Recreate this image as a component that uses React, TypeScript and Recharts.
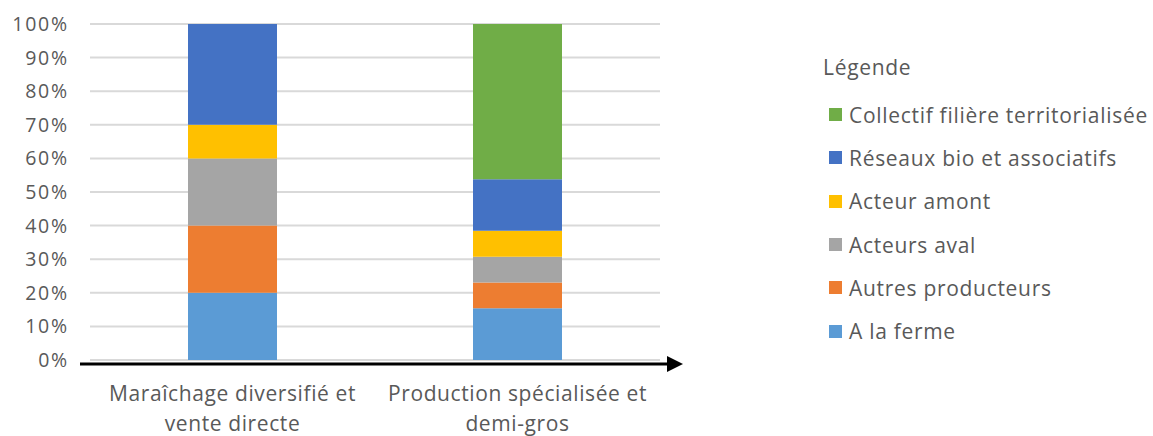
import React from "react";
import { BarChart, Bar, XAxis, YAxis, CartesianGrid, Legend, ReferenceLine } from "recharts";

const categories = ["Maraîchage diversifié et\nvente directe", "Production spécialisée et\ndemi-gros"];
const seriesNames = [
  "A la ferme",
  "Autres producteurs",
  "Acteurs aval",
  "Acteur amont",
  "Réseaux bio et associatifs",
  "Collectif filière territorialisée",
];
const seriesColors = ["#5B9BD5", "#ED7D31", "#A5A5A5", "#FFC000", "#4472C4", "#70AD47"];
const aLaFerme = [20, 15.38];
const autresProducteurs = [20, 7.69];
const acteursAval = [20, 7.69];
const acteurAmont = [10, 7.69];
const reseauxBio = [30, 15.38];
const collectif = [0, 46.17];
const yTicks = [0, 10, 20, 30, 40, 50, 60, 70, 80, 90, 100];
const legendTitle = "Légende";

const seriesValues = [aLaFerme, autresProducteurs, acteursAval, acteurAmont, reseauxBio, collectif];
const data = categories.map((c, i) => {
  const row: any = { name: c };
  seriesNames.forEach((s, k) => (row[s] = seriesValues[k][i]));
  return row;
});

const FONT = "'Open Sans', 'DejaVu Sans', sans-serif";
const TEXT = "#595959";

const XTick = (props: any) => {
  const { x, y, payload } = props;
  const lines = String(payload.value).split("\n");
  return (
    <text x={x} y={y} textAnchor="middle" fill={TEXT} fontSize={21} fontFamily={FONT} letterSpacing={0.6}>
      {lines.map((l, i) => (
        <tspan key={i} x={x} dy={i === 0 ? 41 : 30}>
          {l}
        </tspan>
      ))}
    </text>
  );
};

const AxisArrow = (props: any) => {
  const { x1, y1, x2 } = props;
  const y = y1 + 4;
  return (
    <g>
      <line x1={x1 - 10} y1={y} x2={x2 + 10} y2={y} stroke="#000" strokeWidth={3} />
      <polygon points={`${x2 + 7},${y - 8} ${x2 + 23},${y} ${x2 + 7},${y + 8}`} fill="#000" />
    </g>
  );
};

const LegendContent = (props: any) => {
  const payload = props.payload || [];
  const items = [...seriesNames]
    .reverse()
    .map((n) => payload.find((p: any) => p.value === n) || { value: n, color: seriesColors[seriesNames.indexOf(n)] });
  return (
    <div style={{ fontFamily: FONT, color: TEXT, fontSize: 21, letterSpacing: 0.7 }}>
      <div style={{ height: 34, lineHeight: "34px", marginLeft: 0 }}>{legendTitle}</div>
      <div style={{ height: 9 }} />
      {items.map((it: any) => (
        <div key={it.value} style={{ height: 43.3, display: "flex", alignItems: "center", whiteSpace: "nowrap" }}>
          <span style={{ display: "inline-block", width: 13, height: 13, background: it.color, marginLeft: 6, marginRight: 7 }} />
          <span>{it.value}</span>
        </div>
      ))}
    </div>
  );
};

export default function App() {
  return (
    <div style={{ position: "absolute", left: 0, top: 0, width: 1153, height: 436, background: "#fff", overflow: "hidden" }}>
      <BarChart
        width={1153}
        height={436}
        data={data}
        margin={{ top: 24, right: 163, bottom: 0, left: 30 }}
        barSize={89}
      >
        <CartesianGrid vertical={false} stroke="#D9D9D9" strokeWidth={2} />
        <XAxis dataKey="name" axisLine={false} tickLine={false} tickSize={0} tickMargin={0} height={76} tick={<XTick />} interval={0} />
        <YAxis
          domain={[0, 100]}
          ticks={yTicks}
          tickFormatter={(v: number) => `${v}%`}
          axisLine={false}
          tickLine={false}
          tickSize={0}
          tickMargin={21}
          width={60}
          tick={{ fill: TEXT, fontSize: 19.5, fontFamily: FONT, letterSpacing: 1.8 }}
        />
        {seriesNames.map((s, k) => (
          <Bar key={s} dataKey={s} stackId="a" fill={seriesColors[k]} isAnimationActive={false} />
        ))}
        <ReferenceLine y={0} shape={<AxisArrow />} ifOverflow="visible" />
        <Legend
          layout="vertical"
          verticalAlign="top"
          align="right"
          content={<LegendContent />}
          wrapperStyle={{ left: 823, top: 50, width: 330 }}
        />
      </BarChart>
    </div>
  );
}
